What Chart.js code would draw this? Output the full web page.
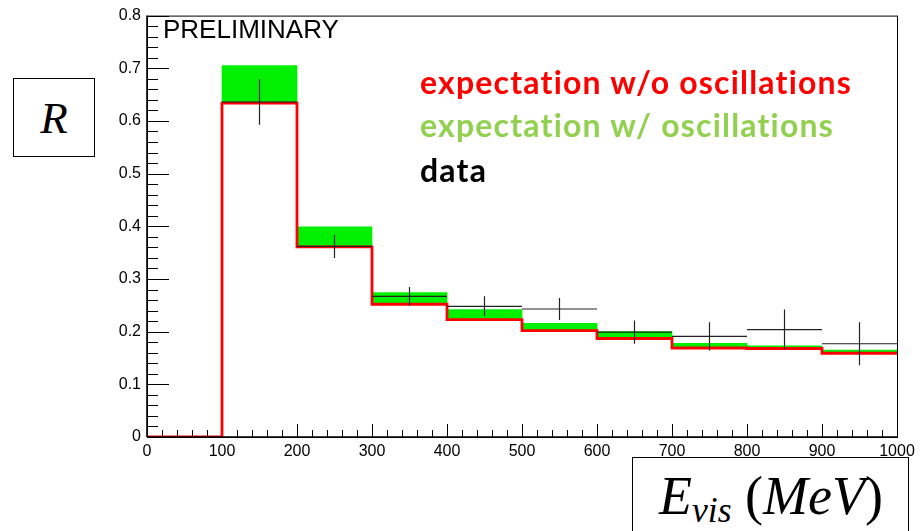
<!DOCTYPE html>
<html>
<head>
<meta charset="utf-8">
<script src="https://cdn.jsdelivr.net/npm/chart.js@4/dist/chart.umd.min.js"></script>
<style>
  html, body { margin: 0; padding: 0; background: #fff; }
  #wrap { position: relative; width: 920px; height: 531px; overflow: hidden; }
  #c { position: absolute; left: 0; top: 0; }
  .lbl { position: absolute; white-space: nowrap; }
  .leg { font-family: Lato, "Open Sans", sans-serif; font-weight: bold; font-size: 32px; letter-spacing: 1.2px; line-height: 1; }
  #prelim { left: 163px; top: 16px; font-family: "Liberation Sans", Arial, sans-serif; font-size: 26px; line-height: 1; color: #000; }
  .box { position: absolute; border: 1.5px solid #000; background: #fff; box-sizing: border-box;
         font-family: "Liberation Serif", "DejaVu Serif", serif; font-style: italic; color: #000; }
  #rbox { left: 13px; top: 78px; width: 82px; height: 79px; font-size: 45px; line-height: 79px; text-align: center; }
  #ebox { left: 632px; top: 457px; width: 277px; height: 90px; font-size: 54px; }
  #ebox span.t { position: absolute; left: 26px; top: 11px; line-height: 1; }
  #ebox sub { font-size: 0.66em; vertical-align: -0.22em; line-height: 0; }
  #ebox .up { font-style: normal; }
</style>
</head>
<body>
<div id="wrap">
  <canvas id="c" width="920" height="531"></canvas>
  <div class="lbl" id="prelim">PRELIMINARY</div>
  <div class="lbl leg" id="l1" style="left:420px; top:66px; color:#ff0000;">expectation w/o oscillations</div>
  <div class="lbl leg" id="l2" style="left:420px; top:109px; color:#92d050;">expectation w/ oscillations</div>
  <div class="lbl leg" id="l3" style="left:420px; top:154px; color:#000;">data</div>
  <div class="box" id="rbox">R</div>
  <div class="box" id="ebox"><span class="t">E<sub>vis</sub> <span class="up">(</span>MeV<span class="up">)</span></span></div>
</div>
<script>
// Bin edges in visible energy (MeV)
const binEdges = [0, 100, 200, 300, 400, 500, 600, 700, 800, 900, 1000];
// Ratio R per bin: expectation without oscillations
const expNoOsc = [0, 0.634, 0.361, 0.252, 0.223, 0.202, 0.187, 0.169, 0.168, 0.159];
// Ratio R per bin: expectation with oscillations
const expOsc = [0, 0.705, 0.399, 0.274, 0.242, 0.216, 0.200, 0.178, 0.173, 0.165];
// Measured ratio (bins 100-1000 MeV) and its uncertainty
const dataBins = [1, 2, 3, 4, 5, 6, 7, 8, 9];
const dataVals = [0.636, 0.362, 0.267, 0.248, 0.243, 0.199, 0.191, 0.204, 0.177];
const dataErrs = [0.043, 0.022, 0.018, 0.019, 0.021, 0.022, 0.027, 0.038, 0.041];
// Axis ticks
const yTicks = [0, 0.1, 0.2, 0.3, 0.4, 0.5, 0.6, 0.7, 0.8];
const xTicks = [0, 100, 200, 300, 400, 500, 600, 700, 800, 900, 1000];

const centre = i => (binEdges[i] + binEdges[i + 1]) / 2;

// Green band between the two expectations
const bandData = expOsc.map((v, i) => ({ x: centre(i), y: [expNoOsc[i], v] }));

// Stepped outline of the no-oscillation expectation
const redData = expNoOsc.map((v, i) => ({ x: binEdges[i + 1], y: v }));
redData.unshift({ x: binEdges[0], y: expNoOsc[0] });

// Data points: horizontal bin-width bars plus vertical error bars, separated by gaps
const dataSegs = [];
dataBins.forEach((b, k) => {
  const v = dataVals[k], e = dataErrs[k];
  dataSegs.push({ x: binEdges[b], y: v }, { x: binEdges[b + 1], y: v }, { x: binEdges[b + 1], y: null });
  dataSegs.push({ x: centre(b), y: v - e }, { x: centre(b), y: v + e }, { x: centre(b), y: null });
});

// Frame and inward-pointing ticks
const framePlugin = {
  id: 'frame',
  beforeDatasetsDraw(chart) {
    const { ctx, chartArea: a, scales: { x, y } } = chart;
    ctx.save();
    ctx.strokeStyle = '#000';
    ctx.lineWidth = 1;
    ctx.beginPath();
    // y ticks: major every 0.1, minor every 0.02
    for (let k = 0; k <= 40; k++) {
      const py = Math.round(y.getPixelForValue(k * 0.02)) + 0.5;
      const len = (k % 5 === 0) ? 22 : 11;
      ctx.moveTo(a.left, py); ctx.lineTo(a.left + len, py);
    }
    // x ticks: major every 100, minor every 20
    for (let k = 0; k <= 50; k++) {
      const px = Math.round(x.getPixelForValue(k * 20)) + 0.5;
      const len = (k % 5 === 0) ? 13 : 7;
      ctx.moveTo(px, a.bottom); ctx.lineTo(px, a.bottom - len);
    }
    ctx.stroke();
    ctx.restore();
  },
  afterDraw(chart) {
    const { ctx, chartArea: a } = chart;
    ctx.save();
    ctx.strokeStyle = '#000';
    ctx.lineWidth = 1;
    ctx.strokeRect(a.left + 0.5, a.top + 0.5, a.right - a.left, a.bottom - a.top);
    ctx.lineWidth = 1.6;
    ctx.beginPath();
    ctx.moveTo(a.left, a.bottom); ctx.lineTo(a.right, a.bottom);
    ctx.moveTo(a.left, a.top); ctx.lineTo(a.left, a.bottom);
    ctx.stroke();
    ctx.restore();
  }
};

Chart.defaults.font.family = '"Liberation Sans", Arial, sans-serif';
Chart.defaults.font.size = 16;
Chart.defaults.color = '#000';

new Chart(document.getElementById('c'), {
  type: 'line',
  data: {
    datasets: [
      {
        type: 'bar',
        data: bandData,
        backgroundColor: '#00f000',
        borderWidth: 0,
        barPercentage: 1,
        categoryPercentage: 1,
        order: 3
      },
      {
        type: 'line',
        data: redData,
        stepped: 'after',
        borderColor: '#ff0000',
        borderWidth: 2.8,
        pointRadius: 0,
        fill: false,
        order: 2
      },
      {
        type: 'line',
        data: dataSegs,
        borderColor: '#222',
        borderWidth: 1.2,
        pointRadius: 0,
        spanGaps: false,
        fill: false,
        order: 1
      }
    ]
  },
  options: {
    responsive: false,
    animation: false,
    devicePixelRatio: 1,
    layout: { padding: { top: 15, right: 23, bottom: 0, left: 0 } },
    plugins: { legend: { display: false }, tooltip: { enabled: false } },
    scales: {
      x: {
        type: 'linear',
        min: 0, max: 1000,
        offset: false,
        grid: { display: false, drawTicks: false },
        border: { display: false },
        afterFit: s => { s.height = 94; },
        afterBuildTicks: s => { s.ticks = xTicks.map(v => ({ value: v })); },
        ticks: { padding: 5, maxRotation: 0, autoSkip: false, callback: v => String(v) }
      },
      y: {
        type: 'linear',
        min: 0, max: 0.8,
        grid: { display: false, drawTicks: false },
        border: { display: false },
        afterFit: s => { s.width = 147; },
        afterBuildTicks: s => { s.ticks = yTicks.map(v => ({ value: v })); },
        ticks: { padding: 6, autoSkip: false, callback: v => (v === 0 ? '0' : v.toFixed(1)) }
      }
    }
  },
  plugins: [framePlugin]
});
</script>
</body>
</html>
